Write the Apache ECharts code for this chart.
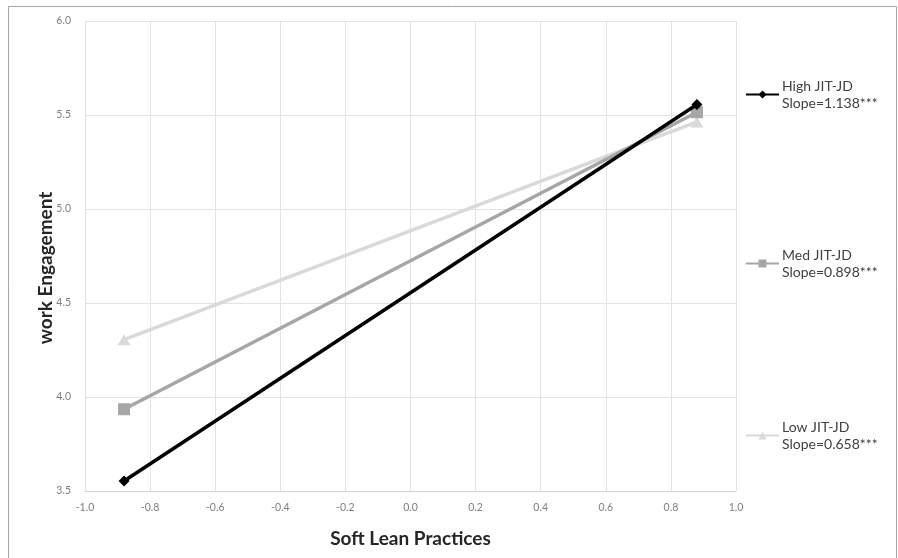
<!DOCTYPE html>
<html>
<head>
<meta charset="utf-8">
<script src="https://cdn.jsdelivr.net/npm/echarts@6/dist/echarts.min.js"></script>
<style>
html,body{margin:0;padding:0;background:#fff;}
#chart{width:898px;height:558px;}
</style>
</head>
<body>
<div id="chart"></div>
<script>
const xValues = [-0.88, 0.88];
const seriesNames = ['High JIT-JD', 'Med JIT-JD', 'Low JIT-JD'];
const slopeLabels = ['Slope=1.138***', 'Slope=0.898***', 'Slope=0.658***'];
const highValues = [3.553, 5.556];
const medValues = [3.935, 5.515];
const lowValues = [4.305, 5.463];
const xTitle = 'Soft Lean Practices';
const yTitle = 'work Engagement';

const FONT = 'Lato, "Open Sans", sans-serif';
const colors = ['#000000', '#a6a6a6', '#d9d9d9'];
const symbols = ['diamond', 'rect', 'triangle'];
const symbolSizes = [11, 12, [13, 11]];
const allValues = [highValues, medValues, lowValues];
const legendTops = [64, 233, 405];

const chart = echarts.init(document.getElementById('chart'), null, {renderer: 'canvas'});

const series = seriesNames.map((name, i) => ({
  name: name,
  type: 'line',
  data: xValues.map((x, j) => [x, allValues[i][j]]),
  symbol: symbols[i],
  symbolSize: symbolSizes[i],
  showAllSymbol: true,
  z: 10 - i,
  lineStyle: {color: colors[i], width: 3.5},
  itemStyle: {color: colors[i]},
  emphasis: {disabled: true},
  animation: false
}));

const legends = seriesNames.map((name, i) => ({
  data: [name],
  left: 740,
  top: legendTops[i],
  orient: 'vertical',
  itemWidth: 33,
  itemHeight: 10,
  itemGap: 0,
  formatter: () => name + '\n' + slopeLabels[i],
  textStyle: {
    fontFamily: FONT,
    fontSize: 14,
    color: '#404040',
    lineHeight: 17,
    padding: [17, 0, 0, -2]
  }
}));

chart.setOption({
  animation: false,
  backgroundColor: '#ffffff',
  grid: {left: 85, right: 162, top: 21, bottom: 67, containLabel: false},
  legend: legends,
  xAxis: {
    type: 'value',
    min: -1,
    max: 1,
    interval: 0.2,
    name: xTitle,
    nameLocation: 'middle',
    nameGap: 38,
    nameMoveOverlap: false,
    nameTextStyle: {fontFamily: FONT, fontSize: 19, fontWeight: 'bold', color: '#262626'},
    axisLine: {show: true, lineStyle: {color: '#d0d0d0', width: 1}},
    axisTick: {show: false},
    axisLabel: {
      formatter: v => (Math.abs(v) < 1e-9 ? 0 : v).toFixed(1),
      fontFamily: FONT, fontSize: 10.5, color: '#7f7f7f', margin: 11
    },
    splitLine: {show: true, lineStyle: {color: '#e3e3e3', width: 1}}
  },
  yAxis: {
    type: 'value',
    min: 3.5,
    max: 6.0,
    interval: 0.5,
    name: yTitle,
    nameLocation: 'middle',
    nameGap: 30,
    nameMoveOverlap: false,
    nameRotate: 90,
    nameTextStyle: {fontFamily: FONT, fontSize: 19, fontWeight: 'bold', color: '#262626', padding: [0, 24, 0, 0]},
    axisLine: {show: false},
    axisTick: {show: false},
    axisLabel: {
      formatter: v => v.toFixed(1),
      fontFamily: FONT, fontSize: 10.5, color: '#7f7f7f', margin: 14
    },
    splitLine: {show: true, lineStyle: {color: '#e3e3e3', width: 1}}
  },
  graphic: [{
    type: 'rect',
    shape: {x: 8.5, y: 6.5, width: 888, height: 560},
    style: {fill: 'none', stroke: '#a6a6a6', lineWidth: 1},
    silent: true
  }],
  series: series
});
</script>
</body>
</html>
